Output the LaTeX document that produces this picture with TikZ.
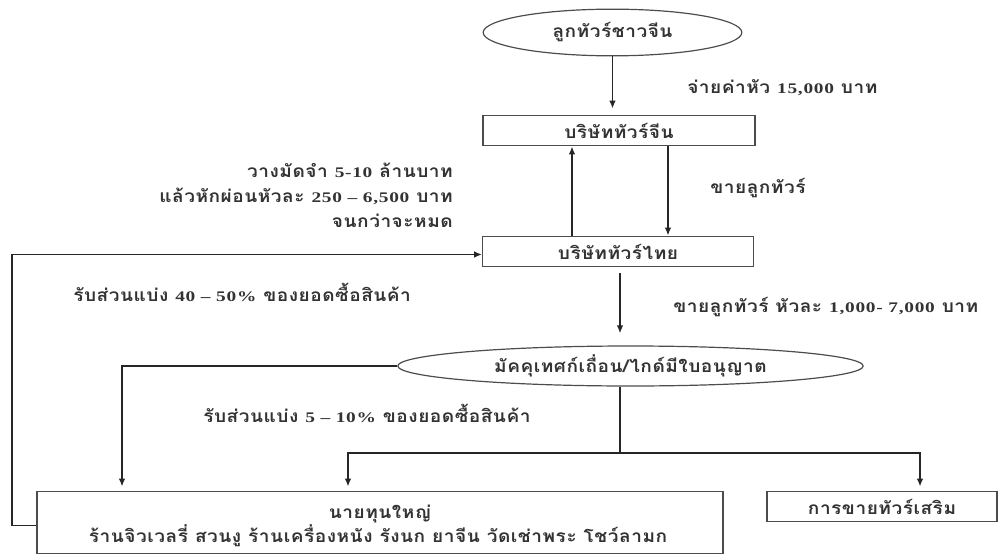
\documentclass[tikz,border=0pt]{standalone}
\usepackage{fontspec}
\setmainfont{Liberation Serif}
\newfontfamily\thf[Script=Thai, FakeStretch=1.1, LetterSpace=3]{Loma}
\newfontfamily\numf[FakeStretch=1.32, LetterSpace=5]{Liberation Serif}
\usetikzlibrary{arrows.meta,shapes.geometric,calc}
\newcommand\nm[1]{{\numf\bfseries\fontsize{11}{12}\selectfont #1}}
\begin{document}
\begin{tikzpicture}[x=0.75pt,y=-0.75pt,
  every node/.style={font=\thf\bfseries\fontsize{13}{14}\selectfont, inner sep=0pt, text=black!80},
  ln/.style={draw=black!85, line width=1.2pt},
  arr/.style={ln, -{Latex[length=6pt,width=5pt]}},
  bx/.style={draw=black!70, line width=0.9pt, rectangle},
  el/.style={draw=black!70, line width=0.9pt, ellipse},
  lbl/.style={}]
\useasboundingbox (0,0) rectangle (998,556);
% nodes
\node[el, minimum width=194pt, minimum height=35pt] (E1) at (612.5,32.5) {ลูกทัวร์ชาวจีน};
\node[bx, minimum width=204pt, minimum height=23pt] (B1) at (619,130.5) {บริษัททัวร์จีน};
\node[bx, minimum width=203pt, minimum height=23pt] (B2) at (618,251.5) {บริษัททัวร์ไทย};
\node[el, minimum width=349pt, minimum height=30pt] (E2) at (630.5,366) {มัคคุเทศก์เถื่อน/ไกด์มีใบอนุญาต};
\node[bx, minimum width=514.5pt, minimum height=46pt] (B3) at (380,522.5) {};
\node (B3a) at (380,514) {นายทุนใหญ่};
\node (B3b) at (378,536) {ร้านจิวเวลรี่ สวนงู ร้านเครื่องหนัง รังนก ยาจีน วัดเช่าพระ โชว์ลามก};
\node[bx, minimum width=172.5pt, minimum height=22pt] (B4) at (882,506.5) {การขายทัวร์เสริม};
% labels
\node[lbl, anchor=west] (L1) at (687,88) {จ่ายค่าหัว \nm{15,000} บาท};
\node[lbl, anchor=east] (L2a) at (453,170) {วางมัดจำ \nm{5-10} ล้านบาท};
\node[lbl, anchor=east] (L2b) at (453,196) {แล้วหักผ่อนหัวละ \nm{250 – 6,500} บาท};
\node[lbl, anchor=east] (L2c) at (453,221) {จนกว่าจะหมด};
\node[lbl, anchor=west] (L3) at (710,188) {ขายลูกทัวร์};
\node[lbl, anchor=west] (L4) at (73,292) {รับส่วนแบ่ง \nm{40 – 50\%} ของยอดซื้อสินค้า};
\node[lbl, anchor=west] (L5) at (673,307) {ขายลูกทัวร์ หัวละ \nm{1,000- 7,000} บาท};
\node[lbl, anchor=west] (L6) at (203,413) {รับส่วนแบ่ง \nm{5 – 10\%} ของยอดซื้อสินค้า};
% helper coordinates
\coordinate (up) at (572,0);
\coordinate (dn) at (668,0);
\coordinate (vx) at (620,0);
\coordinate (lx) at (122,0);
\coordinate (mx) at (348,0);
\coordinate (rx) at (920,0);
\coordinate (hy) at (0,453);
\coordinate (fx) at (12,0);
% connectors
\draw[arr, shorten >=4.5pt] (E1.south) -- (B1.north -| E1.south);
\draw[arr] (B2.north -| up) -- (B1.south -| up);
\draw[arr] (B1.south -| dn) -- (B2.north -| dn);
\draw[arr, shorten <=4.5pt, shorten >=9pt] (B2.south -| vx) -- (E2.north -| vx);
\draw[arr, shorten >=3.5pt] (E2.west) -| (B3.north -| lx);
\coordinate (j) at (E2.south -| vx);
\draw[ln] (j) -- (j |- hy);
\draw[arr, shorten >=3.5pt] (j |- hy) -| (B3.north -| mx);
\draw[arr, shorten >=3.5pt] (j |- hy) -| (B4.north -| rx);
\coordinate (fb) at ($(B3.west)+(0,3)$);
\coordinate (fe) at ($(B2.west)+(0,3)$);
\draw[arr] (fb) -- (fb -| fx) -- (fe -| fx) -- (fe);
\end{tikzpicture}
\end{document}
